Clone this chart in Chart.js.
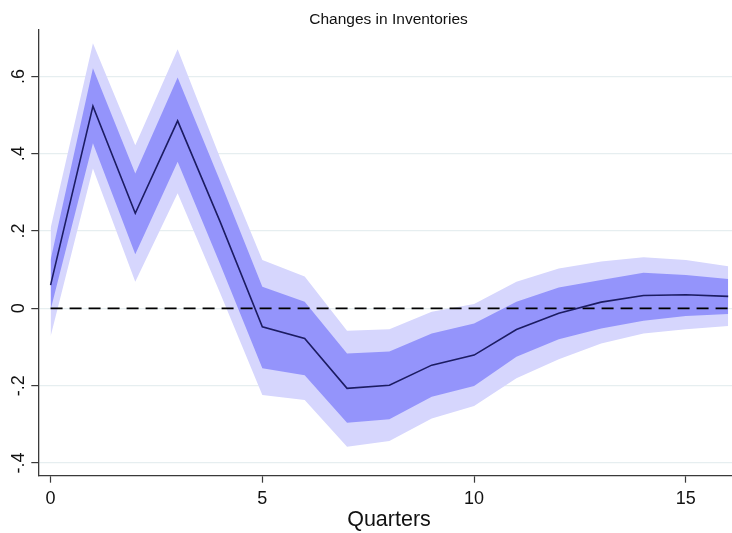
<!DOCTYPE html>
<html>
<head>
<meta charset="utf-8">
<title>Changes in Inventories</title>
<script src="https://cdn.jsdelivr.net/npm/chart.js@4/dist/chart.umd.min.js"></script>
<style>
  html, body { margin: 0; padding: 0; background: #ffffff; }
  #wrap { width: 732px; height: 533px; }
</style>
</head>
<body>
<div id="wrap"><canvas id="irf" width="732" height="533"></canvas></div>
<script>
// Impulse response of changes in inventories, by quarter after the shock
const quarters = [0, 1, 2, 3, 4, 5, 6, 7, 8, 9, 10, 11, 12, 13, 14, 15, 16];
const response = [0.060, 0.523, 0.246, 0.485, 0.225, -0.048, -0.078, -0.207, -0.199, -0.147, -0.121, -0.055, -0.013, 0.016, 0.033, 0.035, 0.031];

// Inner (narrow) confidence band
const innerUpper = [0.125, 0.621, 0.349, 0.597, 0.330, 0.056, 0.017, -0.117, -0.112, -0.065, -0.039, 0.017, 0.054, 0.073, 0.092, 0.086, 0.076];
const innerLower = [-0.004, 0.427, 0.140, 0.379, 0.115, -0.155, -0.173, -0.296, -0.287, -0.229, -0.201, -0.125, -0.080, -0.052, -0.032, -0.020, -0.015];

// Outer (wide) confidence band
const outerUpper = [0.207, 0.686, 0.422, 0.670, 0.390, 0.125, 0.082, -0.058, -0.054, -0.009, 0.011, 0.069, 0.103, 0.121, 0.132, 0.125, 0.109];
const outerLower = [-0.073, 0.362, 0.069, 0.298, 0.040, -0.224, -0.237, -0.358, -0.343, -0.285, -0.253, -0.181, -0.132, -0.091, -0.065, -0.054, -0.046];

// Axis ticks
const xTickValues = [0, 5, 10, 15];
const xTickLabels = ['0', '5', '10', '15'];
const yTickValues = [-0.4, -0.2, 0, 0.2, 0.4, 0.6];
const yTickLabels = ['-.4', '-.2', '0', '.2', '.4', '.6'];

const chartTitle = 'Changes in Inventories';
const xTitle = 'Quarters';

const FONT = '"Liberation Sans", Arial, Helvetica, sans-serif';
const AXIS_COLOR = '#3a3a3a';

const pts = (ys) => quarters.map((q, i) => ({ x: q, y: ys[i] }));

// Text drawn on top of the scales: title, tick labels, axis title
const textPlugin = {
  id: 'stataText',
  afterDraw(chart) {
    const ctx = chart.ctx;
    const xs = chart.scales.x;
    const ys = chart.scales.y;
    ctx.save();
    ctx.fillStyle = '#111111';

    // title
    ctx.font = '15.5px ' + FONT;
    ctx.textAlign = 'center';
    ctx.textBaseline = 'alphabetic';
    ctx.fillText(chartTitle, 388.5, 23.5);

    // x tick labels
    ctx.font = '18px ' + FONT;
    xTickValues.forEach((v, i) => {
      ctx.fillText(xTickLabels[i], xs.getPixelForValue(v), 503.5);
    });

    // x axis title
    ctx.font = '21.5px ' + FONT;
    ctx.fillText(xTitle, 389, 526);

    // y tick labels, rotated to read upward
    ctx.font = '18px ' + FONT;
    yTickValues.forEach((v, i) => {
      const py = ys.getPixelForValue(v);
      ctx.save();
      ctx.translate(23.5, py);
      ctx.rotate(-Math.PI / 2);
      ctx.textAlign = 'center';
      ctx.fillText(yTickLabels[i], 0, 0);
      ctx.restore();
    });
    ctx.restore();
  }
};

new Chart(document.getElementById('irf'), {
  type: 'line',
  data: {
    datasets: [
      {
        label: 'outer upper',
        data: pts(outerUpper),
        borderWidth: 0,
        pointRadius: 0,
        backgroundColor: 'rgb(214, 214, 253)',
        fill: '+1',
        order: 6
      },
      {
        label: 'outer lower',
        data: pts(outerLower),
        borderWidth: 0,
        pointRadius: 0,
        fill: false,
        order: 5
      },
      {
        label: 'inner upper',
        data: pts(innerUpper),
        borderWidth: 0,
        pointRadius: 0,
        backgroundColor: 'rgb(148, 148, 251)',
        fill: '+1',
        order: 4
      },
      {
        label: 'inner lower',
        data: pts(innerLower),
        borderWidth: 0,
        pointRadius: 0,
        fill: false,
        order: 3
      },
      {
        label: 'zero',
        data: [{ x: quarters[0], y: 0 }, { x: quarters[quarters.length - 1], y: 0 }],
        borderColor: '#000000',
        borderWidth: 1.8,
        borderDash: [12, 7],
        pointRadius: 0,
        fill: false,
        order: 2
      },
      {
        label: 'response',
        data: pts(response),
        borderColor: '#1c1c62',
        borderWidth: 1.6,
        pointRadius: 0,
        fill: false,
        tension: 0,
        order: 1
      }
    ]
  },
  options: {
    responsive: false,
    animation: false,
    devicePixelRatio: 1,
    layout: { padding: { top: 30, right: 0, left: 0, bottom: 0 } },
    plugins: {
      legend: { display: false },
      title: { display: false },
      tooltip: { enabled: false }
    },
    scales: {
      x: {
        type: 'linear',
        min: -0.29,
        max: 16.09,
        afterBuildTicks: (s) => { s.ticks = xTickValues.map(v => ({ value: v })); },
        afterFit: (s) => { s.height = 57.3; },
        ticks: { display: false },
        grid: {
          display: true,
          drawOnChartArea: false,
          drawTicks: true,
          tickLength: 7,
          tickColor: AXIS_COLOR,
          tickWidth: 1.2
        },
        border: { display: true, color: AXIS_COLOR, width: 1.3 }
      },
      y: {
        type: 'linear',
        min: -0.433,
        max: 0.72,
        afterBuildTicks: (s) => { s.ticks = yTickValues.map(v => ({ value: v })); },
        afterFit: (s) => { s.width = 38.3; },
        ticks: { display: false },
        grid: {
          display: true,
          drawOnChartArea: true,
          drawTicks: true,
          tickLength: 7,
          color: '#e6eef0',
          lineWidth: 1.2,
          tickColor: AXIS_COLOR,
          tickWidth: 1.2
        },
        border: { display: true, color: AXIS_COLOR, width: 1.3 }
      }
    }
  },
  plugins: [textPlugin]
});
</script>
</body>
</html>
